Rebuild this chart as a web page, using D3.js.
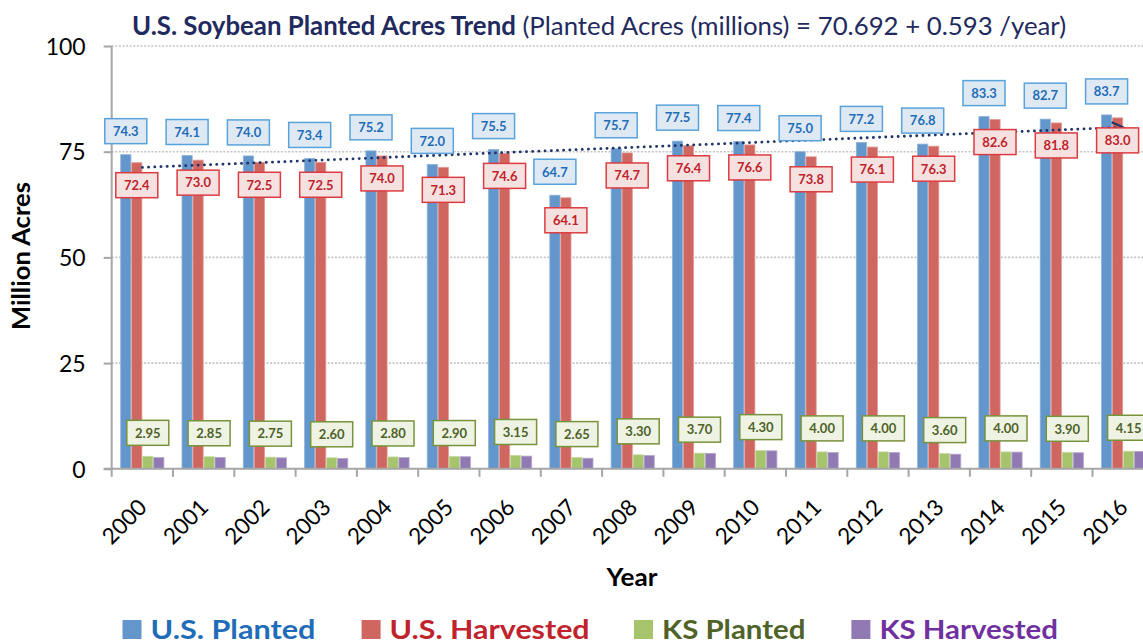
<!DOCTYPE html>
<html>
<head>
<meta charset="utf-8">
<script src="https://cdn.jsdelivr.net/npm/d3@7"></script>
<style>
  html, body { margin: 0; padding: 0; background: #fff; overflow: hidden; }
  svg { display: block; font-family: Lato, "Open Sans", sans-serif; }
</style>
</head>
<body>
<svg id="chart" width="1143" height="643"></svg>
<script>
// Soybean acreage, million acres
const years = ["2000","2001","2002","2003","2004","2005","2006","2007","2008",
               "2009","2010","2011","2012","2013","2014","2015","2016"];
const usPlanted   = [74.3, 74.1, 74.0, 73.4, 75.2, 72.0, 75.5, 64.7, 75.7,
                     77.5, 77.4, 75.0, 77.2, 76.8, 83.3, 82.7, 83.7];
const usHarvested = [72.4, 73.0, 72.5, 72.5, 74.0, 71.3, 74.6, 64.1, 74.7,
                     76.4, 76.6, 73.8, 76.1, 76.3, 82.6, 81.8, 83.0];
const ksPlanted   = [2.95, 2.85, 2.75, 2.60, 2.80, 2.90, 3.15, 2.65, 3.30,
                     3.70, 4.30, 4.00, 4.00, 3.60, 4.00, 3.90, 4.15];
const ksHarvested = [2.65, 2.70, 2.60, 2.45, 2.65, 2.85, 3.00, 2.50, 3.15,
                     3.65, 4.25, 3.85, 3.85, 3.45, 3.95, 3.80, 4.10];
const yTicks = [0, 25, 50, 75, 100];
// Linear trend of U.S. planted acres: 70.692 + 0.593 * (year index starting at 1)
const trendIntercept = 70.692;
const trendSlope = 0.593;

const seriesNames = ["U.S. Planted", "U.S. Harvested", "KS Planted", "KS Harvested"];
const seriesValues = [usPlanted, usHarvested, ksPlanted, ksHarvested];
const barColors  = ["#6396CA", "#CF6660", "#A6C46C", "#917AB4"];
const edgeColors = ["#8DB3DC", "#E39A95", "#C4D99C", "#B5A5CE"];
const legendText = ["#1F6DB8", "#C0232B", "#4F6228", "#7030A0"];

const svg = d3.select("#chart");

const left = 111.7, band = 61.3;
const x0 = d3.scaleBand().domain(years).range([left, left + band * years.length]).padding(0);
const x1 = d3.scaleBand().domain(seriesNames).range([8.6, 52.6]).padding(0);
const y = d3.scaleLinear().domain([0, 100]).range([468.8, 46]);

// dotted horizontal gridlines
svg.append("g").selectAll("line").data(yTicks.filter(t => t > 0)).join("line")
  .attr("x1", left).attr("x2", 1143)
  .attr("y1", d => y(d)).attr("y2", d => y(d))
  .attr("stroke", "#C4C4C4").attr("stroke-width", 1.6).attr("stroke-dasharray", "2,1.6");

// grouped bars
const rows = years.map((yr, i) => ({ year: yr, vals: seriesNames.map((s, k) => ({ s, k, v: seriesValues[k][i] })) }));
const groups = svg.append("g").selectAll("g").data(rows).join("g")
  .attr("transform", d => `translate(${x0(d.year)},0)`);
groups.selectAll("rect").data(d => d.vals).join("rect")
  .attr("x", d => x1(d.s) + 0.4)
  .attr("width", x1.bandwidth() - 0.8)
  .attr("y", d => y(d.v))
  .attr("height", d => y(0) - y(d.v))
  .attr("fill", d => barColors[d.k])
  .attr("stroke", d => edgeColors[d.k]).attr("stroke-width", 0.8);

// axes
const axisColor = "#A6A6A6";
const yAxis = svg.append("g").attr("transform", `translate(${left},0)`)
  .call(d3.axisLeft(y).tickValues(yTicks).tickSize(8).tickPadding(18));
yAxis.select(".domain").attr("stroke", axisColor).attr("stroke-width", 2)
  .attr("d", `M0,${y(0)}V${y(100)}`);
yAxis.selectAll(".tick line").attr("stroke", axisColor).attr("stroke-width", 2);
yAxis.selectAll(".tick text").attr("font-size", 23).attr("fill", "#000")
  .attr("font-family", "Lato, sans-serif").attr("dy", "0.36em");

const xAxis = svg.append("g").attr("transform", `translate(0,${y(0)})`);
xAxis.append("line").attr("x1", left - 8).attr("x2", 1143).attr("y1", 0).attr("y2", 0)
  .attr("stroke", axisColor).attr("stroke-width", 2);
xAxis.selectAll("line.tk").data(years.concat(["end"])).join("line").attr("class", "tk")
  .attr("x1", (d, i) => left + i * band).attr("x2", (d, i) => left + i * band)
  .attr("y1", 0).attr("y2", 8).attr("stroke", axisColor).attr("stroke-width", 2);
xAxis.selectAll("text").data(years).join("text")
  .attr("transform", d => `translate(${x0(d) + x0.bandwidth() / 2 + 6},${40}) rotate(-45)`)
  .attr("text-anchor", "end").attr("font-size", 22.5).attr("fill", "#000")
  .text(d => d);

// trend line
svg.append("defs").append("marker")
  .attr("id", "arrow").attr("viewBox", "0 0 10 10").attr("refX", 9).attr("refY", 5)
  .attr("markerWidth", 5).attr("markerHeight", 5).attr("orient", "auto")
  .append("path").attr("d", "M1,1 L9,5 L1,9").attr("fill", "none")
  .attr("stroke", "#1F3468").attr("stroke-width", 1.6);
const trendPts = years.map((yr, i) => [x0(yr) + x0.bandwidth() / 2, y(trendIntercept + trendSlope * (i + 1))]);
svg.append("path")
  .attr("d", d3.line()([trendPts[0], trendPts[trendPts.length - 1]]))
  .attr("fill", "none").attr("stroke", "#1F3468").attr("stroke-width", 2.8)
  .attr("stroke-linecap", "round").attr("stroke-dasharray", "0.1,6.1")
  .attr("marker-end", "url(#arrow)");

// value labels
function drawLabels(values, seriesIdx, offset, fill, stroke, color, fmt) {
  const g = svg.append("g").selectAll("g").data(values).join("g")
    .attr("transform", (v, i) => `translate(${x0(years[i]) + x1(seriesNames[seriesIdx]) + x1.bandwidth() / 2},${y(v) + offset})`);
  g.append("rect").attr("x", -21).attr("y", -12.5).attr("width", 42).attr("height", 25)
    .attr("fill", fill).attr("stroke", stroke).attr("stroke-width", 1.5);
  g.append("text").attr("text-anchor", "middle").attr("dy", "0.37em")
    .attr("font-size", 13).attr("font-weight", 700).attr("fill", color)
    .text(v => fmt(v));
}
const f1 = d3.format(".1f"), f2 = d3.format(".2f");
drawLabels(usPlanted, 0, -23.5, "#DFE9F4", "#5AA2DA", "#1F6DB8", f1);
drawLabels(usHarvested, 1, 22.5, "#F6E1E1", "#DC3C41", "#C0232B", f1);
drawLabels(ksPlanted, 2, -23.5, "#EEF3E4", "#77933C", "#4F6228", f2);

// title
const title = svg.append("text").attr("x", 132).attr("y", 35).attr("fill", "#1F2A5E").attr("font-size", 25.8);
title.append("tspan").attr("font-weight", 700).text("U.S. Soybean Planted Acres Trend");
title.append("tspan").text(" (Planted Acres (millions) = 70.692 + 0.593 /year)");

// axis titles
svg.append("text").attr("transform", "translate(30,256) rotate(-90)")
  .attr("text-anchor", "middle").attr("font-size", 24.5).attr("font-weight", 700)
  .attr("textLength", 148).attr("lengthAdjust", "spacingAndGlyphs")
  .attr("fill", "#000").text("Million Acres");
svg.append("text").attr("x", 632).attr("y", 586).attr("text-anchor", "middle")
  .attr("font-size", 24.5).attr("font-weight", 700)
  .attr("textLength", 51).attr("lengthAdjust", "spacingAndGlyphs")
  .attr("fill", "#000").text("Year");

// legend
const legendX = [122.5, 361.6, 634, 851.4];
const legendW = [165, 200, 143.5, 178.5];
const leg = svg.append("g").selectAll("g").data(seriesNames).join("g")
  .attr("transform", (d, i) => `translate(${legendX[i]},620)`);
leg.append("rect").attr("width", 19).attr("height", 19).attr("fill", (d, i) => barColors[i]);
leg.append("text").attr("x", 28).attr("y", 18.5).attr("font-size", 26.5).attr("font-weight", 700)
  .attr("textLength", (d, i) => legendW[i]).attr("lengthAdjust", "spacingAndGlyphs")
  .attr("fill", (d, i) => legendText[i]).text(d => d);
</script>
</body>
</html>
